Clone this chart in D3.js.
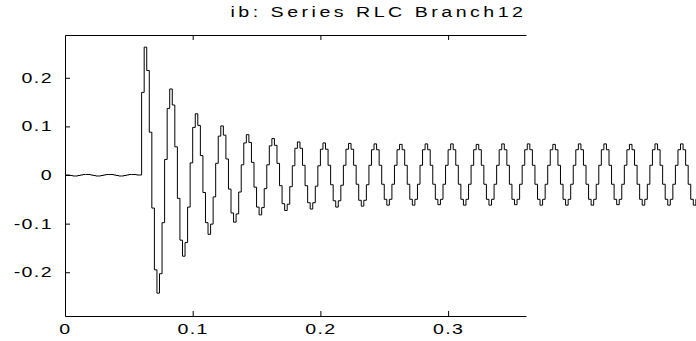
<!DOCTYPE html>
<html>
<head>
<meta charset="utf-8">
<script src="https://cdn.jsdelivr.net/npm/d3@7"></script>
<style>
  body { margin: 0; background: #fff; }
  .chart text { font-family: Arial, "Liberation Sans", sans-serif; fill: #000; }
</style>
</head>
<body>
<div class="chart"></div>
<script>
// Step 1: Data
//= ================================
var title = "ib: Series RLC Branch12";
var timeStep = 0.002;      // seconds between samples
var xMax = 0.361;          // where the axes box ends
var yMin = -0.29;
var yMax = 0.288;

var xTicks = [0, 0.1, 0.2, 0.3];
var xTickLabels = ["0", "0.1", "0.2", "0.3"];
var yTicks = [-0.2, -0.1, 0, 0.1, 0.2];
var yTickLabels = ["-0.2", "-0.1", "0", "0.1", "0.2"];

// before the switch closes (t = 0 .. 0.058)
var beforeSwitch = [
  0.000, 0.000, -0.001, -0.002, -0.002, -0.001, 0.000, 0.001, 0.001, 0.001,
  0.000, -0.001, -0.002, -0.002, -0.001, 0.000, 0.001, 0.001, 0.001, 0.000,
  -0.001, -0.002, -0.002, -0.001, 0.000, 0.001, 0.001, 0.001, 0.000, 0.000
];

// after the switch closes (t = 0.060 .. 0.500)
var afterSwitch = [
  0.170, 0.263, 0.215, 0.088, -0.068, -0.195, -0.243, -0.203, -0.098, 0.032,
  0.137, 0.177, 0.144, 0.058, -0.048, -0.134, -0.167, -0.139, -0.066, 0.025,
  0.098, 0.126, 0.102, 0.040, -0.036, -0.098, -0.122, -0.101, -0.045, 0.024,
  0.080, 0.101, 0.082, 0.033, -0.029, -0.078, -0.097, -0.080, -0.035, 0.021,
  0.066, 0.083, 0.067, 0.026, -0.025, -0.066, -0.082, -0.067, -0.028, 0.021,
  0.060, 0.075, 0.061, 0.024, -0.022, -0.059, -0.073, -0.060, -0.024, 0.019,
  0.055, 0.068, 0.055, 0.020, -0.022, -0.057, -0.070, -0.057, -0.023, 0.019,
  0.053, 0.066, 0.053, 0.020, -0.020, -0.053, -0.066, -0.053, -0.021, 0.020,
  0.053, 0.065, 0.053, 0.020, -0.019, -0.052, -0.064, -0.052, -0.020, 0.020,
  0.052, 0.064, 0.052, 0.020, -0.019, -0.050, -0.062, -0.050, -0.019, 0.020,
  0.052, 0.063, 0.052, 0.020, -0.019, -0.050, -0.062, -0.050, -0.019, 0.020,
  0.052, 0.064, 0.052, 0.020, -0.019, -0.050, -0.061, -0.050, -0.019, 0.020,
  0.052, 0.064, 0.052, 0.020, -0.019, -0.050, -0.062, -0.050, -0.019, 0.020,
  0.052, 0.063, 0.052, 0.020, -0.019, -0.050, -0.062, -0.050, -0.019, 0.020,
  0.052, 0.064, 0.052, 0.020, -0.019, -0.050, -0.061, -0.050, -0.019, 0.020,
  0.052, 0.064, 0.052, 0.020, -0.019, -0.050, -0.062, -0.050, -0.019, 0.020,
  0.052, 0.063, 0.052, 0.020, -0.019, -0.050, -0.062, -0.050, -0.019, 0.020,
  0.052, 0.064, 0.052, 0.020, -0.019, -0.050, -0.062, -0.050, -0.019, 0.020,
  0.052, 0.064, 0.052, 0.020, -0.019, -0.050, -0.061, -0.050, -0.019, 0.020,
  0.052, 0.063, 0.052, 0.020, -0.019, -0.050, -0.062, -0.050, -0.019, 0.020,
  0.052, 0.064, 0.052, 0.020, -0.019, -0.050, -0.062, -0.050, -0.019, 0.020,
  0.052, 0.064, 0.052, 0.020, -0.019, -0.050, -0.062, -0.050, -0.019, 0.020,
  0.052
];

var current = beforeSwitch.concat(afterSwitch);

// Step 2: Set up the chart
//= ================================
var svgWidth = 696;
var svgHeight = 341;
var margin = { top: 35, right: 170, bottom: 25, left: 65 };
var width = svgWidth - margin.left - margin.right;
var height = svgHeight - margin.top - margin.bottom;

var svg = d3.select(".chart")
  .append("svg")
  .attr("width", svgWidth)
  .attr("height", svgHeight);

var chartGroup = svg.append("g")
  .attr("transform", `translate(${margin.left}, ${margin.top})`);

// Step 3: Scales
//= ================================
var xScale = d3.scaleLinear().domain([0, xMax]).range([0, width]);
var yScale = d3.scaleLinear().domain([yMin, yMax]).range([height, 0]);

// Step 4: Axes (ticks point inwards, no right edge)
//= ================================
var bottomAxis = d3.axisBottom(xScale)
  .tickValues(xTicks)
  .tickFormat((d, i) => xTickLabels[i])
  .tickSizeInner(-5).tickSizeOuter(0).tickPadding(8);

var topAxis = d3.axisTop(xScale)
  .tickValues(xTicks.slice(1))
  .tickFormat("")
  .tickSizeInner(-5).tickSizeOuter(0);

var leftAxis = d3.axisLeft(yScale)
  .tickValues(yTicks)
  .tickFormat((d, i) => yTickLabels[i])
  .tickSizeInner(-5).tickSizeOuter(0).tickPadding(12);

var xAxisG = chartGroup.append("g")
  .attr("transform", `translate(0, ${height})`)
  .call(bottomAxis);

chartGroup.append("g").call(topAxis);

var yAxisG = chartGroup.append("g").call(leftAxis);

// the scope font is wide, stretch the labels
xAxisG.selectAll("text")
  .attr("font-size", 14)
  .attr("letter-spacing", 1)
  .attr("transform", function () {
    var yPos = d3.select(this).attr("y");
    return `translate(0, ${yPos}) scale(1.4, 1)`;
  })
  .attr("y", 0);

yAxisG.selectAll("text")
  .attr("font-size", 14)
  .attr("letter-spacing", 1)
  .attr("transform", function () {
    var xPos = d3.select(this).attr("x");
    return `translate(${xPos}, 0) scale(1.4, 1)`;
  })
  .attr("x", 0);

chartGroup.selectAll(".domain, .tick line")
  .attr("stroke", "#000")
  .attr("stroke-width", 1);

// Step 5: The signal, held between samples
//= ================================
var line = d3.line()
  .x((d, i) => xScale(i * timeStep))
  .y(d => yScale(d))
  .curve(d3.curveStepAfter);

chartGroup.append("path")
  .datum(current)
  .attr("d", line)
  .attr("fill", "none")
  .attr("stroke", "#000")
  .attr("stroke-width", 1);

// Step 6: Title (top is cut by the window)
//= ================================
svg.append("text")
  .attr("transform", "translate(378.5, 17) scale(1.4, 1)")
  .attr("text-anchor", "middle")
  .attr("font-size", 14)
  .attr("letter-spacing", 2.5)
  .text(title);
</script>
</body>
</html>
